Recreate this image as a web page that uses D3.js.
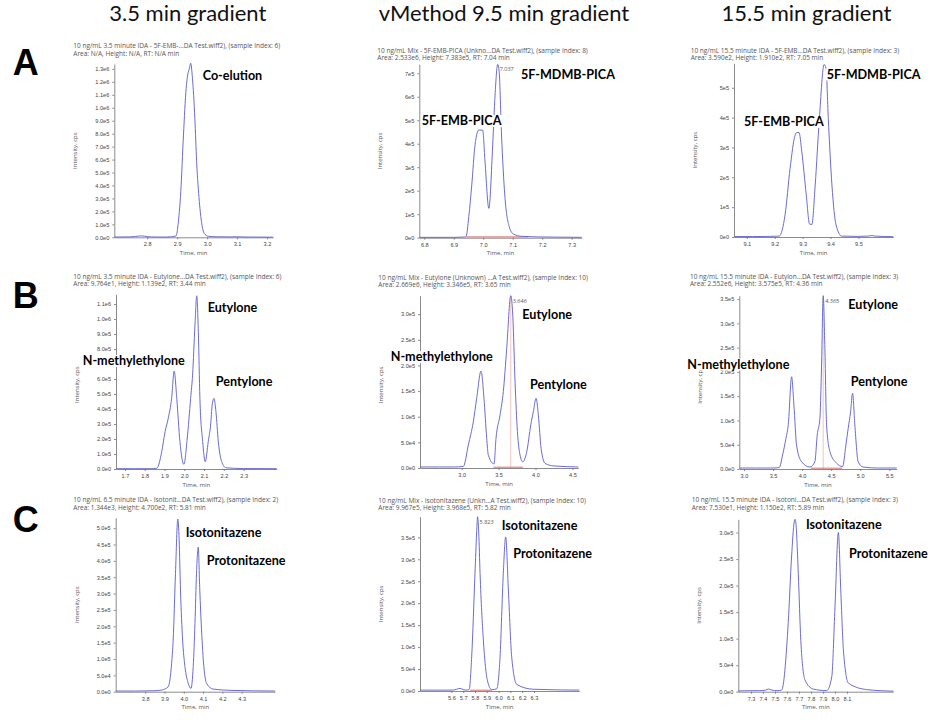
<!DOCTYPE html>
<meta charset="utf-8">
<style>
	body{margin:0;background:#fff;}
	svg{display:block;font-family:"Open Sans",sans-serif;}
	.axis path,.axis line{stroke:#6d6d6d;stroke-width:0.8;}
	.axis text{font-size:5.6px;fill:#444;}
	.trace{fill:none;stroke:#6c6cd0;stroke-width:1;}
	.head{font-family:Lato,sans-serif;font-size:22px;fill:#111;}
	.row{font-family:"Liberation Sans",Arial,sans-serif;font-weight:bold;font-size:36px;fill:#000;}
	.peak{font-family:Lato,sans-serif;font-weight:bold;font-size:12.6px;fill:#000;}
	.info{font-size:6.5px;fill:#555;}
	.atitle{font-size:6px;fill:#555;}
	.apex{font-size:5.5px;fill:#555;}
	.base{stroke:#e06a6a;stroke-width:1;}
	.rtline{stroke:#f2b4b4;stroke-width:0.8;}
</style>
<body>
<svg width="936" height="720" id="fig"></svg>
<script src="https://cdn.jsdelivr.net/npm/d3@7"></script>
<script>
	/* column headers and row letters */
	var headers = ["3.5 min gradient", "vMethod 9.5 min gradient", "15.5 min gradient"];
	var rows = ["A", "B", "C"];

	/* chromatogram traces: time (min) and intensity (cps) */
	var a1Time = [2.69, 2.74, 2.76, 2.781, 2.80, 2.83, 2.865, 2.896, 2.904, 2.912, 2.921, 2.93, 2.935, 2.941, 2.945, 2.951, 2.959, 2.965, 2.974, 2.982, 2.99, 3.004, 3.03, 3.08, 3.10, 3.13, 3.22];
	var a1Int = [2e3, 3e3, 6e3, 1.1e4, 5e3, 2e3, 2e3, 1e4, 1.2e5, 3.52e5, 7.9e5, 1.15e6, 1.253e6, 1.305e6, 1.344e6, 1.228e6, 9.19e5, 5.84e5, 2.75e5, 1.08e5, 3.1e4, 8e3, 4e3, 3e3, 4e3, 2e3, 1e3];

	var a2Time = [6.783, 6.85, 6.90, 6.941, 6.951, 6.961, 6.972, 6.985, 6.998, 7.006, 7.019, 7.032, 7.04, 7.049, 7.054, 7.062, 7.073, 7.088, 7.102, 7.13, 7.2, 7.334];
	var a2Int = [1.5e3, 1.5e3, 1.5e3, 3e3, 9e4, 2.24e5, 3.94e5, 4.58e5, 4.58e5, 3.23e5, 1.25e5, 3.94e5, 6.07e5, 7.38e5, 7.06e5, 4.37e5, 1.82e5, 4.7e4, 1.6e4, 6e3, 3e3, 1.5e3];

	var a3Time = [9.054, 9.12, 9.18, 9.216, 9.237, 9.255, 9.273, 9.279, 9.287, 9.297, 9.313, 9.325, 9.333, 9.345, 9.36, 9.377, 9.384, 9.392, 9.405, 9.42, 9.44, 9.5, 9.535, 9.548, 9.56, 9.625];
	var a3Int = [1.5e3, 1.5e3, 2e3, 3e3, 7.4e4, 2.3e5, 3.41e5, 3.5e5, 3.5e5, 2.86e5, 1.41e5, 4.3e4, 4.2e4, 1.74e5, 3.97e5, 5.78e5, 5.65e5, 3.97e5, 1.74e5, 4e4, 3e3, 2e3, 3e3, 5e3, 3e3, 1e3];

	var b1Time = [1.655, 1.75, 1.83, 1.861, 1.886, 1.903, 1.919, 1.936, 1.949, 1.962, 1.978, 1.998, 2.015, 2.032, 2.042, 2.054, 2.063, 2.071, 2.079, 2.093, 2.106, 2.121, 2.133, 2.141, 2.15, 2.16, 2.172, 2.189, 2.211, 2.30, 2.467];
	var b1Int = [2e3, 2e3, 2e3, 5e3, 1.15e5, 2.49e5, 3.38e5, 4.71e5, 6.53e5, 4.71e5, 1.82e5, 3.1e4, 2.05e5, 4.71e5, 6.27e5, 9.6e5, 1.155e6, 9.15e5, 4.71e5, 1.82e5, 4.9e4, 1.82e5, 2.93e5, 4.27e5, 4.71e5, 3.82e5, 1.82e5, 4.9e4, 8e3, 3e3, 2e3];

	var b2Time = [2.435, 2.7, 2.9, 3.022, 3.09, 3.157, 3.203, 3.262, 3.302, 3.339, 3.361, 3.438, 3.465, 3.519, 3.564, 3.61, 3.665, 3.692, 3.723, 3.755, 3.791, 3.827, 3.882, 3.936, 3.971, 4.008, 4.039, 4.076, 4.13, 4.25, 4.58];
	var b2Int = [2e3, 2e3, 2e3, 3e3, 4.5e4, 9e4, 1.36e5, 1.89e5, 1.36e5, 5.8e4, 2.5e4, 8e3, 5.8e4, 1.03e5, 1.49e5, 2.33e5, 3.36e5, 2.98e5, 1.68e5, 7.1e4, 2.5e4, 1.2e4, 3.2e4, 8.4e4, 1.1e5, 1.36e5, 1.03e5, 3.8e4, 9e3, 4e3, 2e3];

	var b3Time = [2.92, 3.2, 3.5, 3.607, 3.665, 3.722, 3.762, 3.82, 3.859, 3.905, 3.991, 4.134, 4.22, 4.26, 4.306, 4.335, 4.363, 4.392, 4.421, 4.478, 4.593, 4.696, 4.753, 4.793, 4.834, 4.868, 4.907, 4.964, 5.05, 5.3, 5.627];
	var b3Int = [2e3, 2e3, 2e3, 3e3, 2.9e4, 6.3e4, 9.1e4, 1.9e5, 1.32e5, 4.9e4, 1.5e4, 4e3, 1.5e4, 7e4, 1.04e5, 2.14e5, 3.57e5, 2.48e5, 9.1e4, 3.6e4, 1.2e4, 5e3, 4.9e4, 8.4e4, 1.18e5, 1.56e5, 9.1e4, 1.5e4, 4e3, 2e3, 2e3];

	var c1Time = [3.647, 3.75, 3.85, 3.885, 3.919, 3.937, 3.945, 3.957, 3.969, 3.976, 3.983, 3.994, 4.006, 4.023, 4.037, 4.049, 4.058, 4.066, 4.075, 4.083, 4.092, 4.104, 4.118, 4.152, 4.25, 4.473];
	var c1Int = [2e3, 2e3, 3e3, 5e3, 1.5e4, 8.7e4, 1.58e5, 3.62e5, 5.28e5, 4.64e5, 3.11e5, 1.58e5, 7.7e4, 2.6e4, 1e4, 7.7e4, 2.09e5, 3.62e5, 4.42e5, 3.11e5, 1.89e5, 7.7e4, 2.6e4, 8e3, 4e3, 2e3];

	var c2Time = [5.334, 5.608, 5.645, 5.673, 5.702, 5.733, 5.751, 5.772, 5.80, 5.814, 5.822, 5.832, 5.843, 5.871, 5.906, 5.943, 5.984, 6.012, 6.04, 6.06, 6.083, 6.111, 6.154, 6.293, 6.684];
	var c2Int = [2e3, 2e3, 4e3, 6e3, 3e3, 2e3, 4e3, 7.8e4, 2.68e5, 3.6e5, 3.97e5, 3.6e5, 2.68e5, 1.16e5, 2.3e4, 3e3, 5e3, 7.6e4, 2.68e5, 3.51e5, 2.3e5, 7.8e4, 1.5e4, 4e3, 2e3];

	var c3Time = [7.194, 7.373, 7.423, 7.445, 7.474, 7.518, 7.555, 7.61, 7.638, 7.66, 7.667, 7.674, 7.694, 7.715, 7.75, 7.819, 7.931, 7.973, 8.0, 8.028, 8.048, 8.07, 8.112, 8.264, 8.486];
	var c3Int = [1.5e3, 2e3, 3e3, 5e3, 3e3, 2e3, 3e3, 1.29e5, 2.54e5, 3.2e5, 3.25e5, 3.18e5, 2.23e5, 9.7e4, 2.2e4, 5e3, 2e3, 2.8e4, 1.6e5, 3e5, 1.92e5, 7.9e4, 1.6e4, 4e3, 1e3];

	/* axis ranges and ticks */
	var xDomains = [[2.69, 3.22], [6.783, 7.334], [9.054, 9.625], [1.655, 2.467], [2.435, 4.58], [2.92, 5.627], [3.647, 4.473], [5.334, 6.684], [7.194, 8.486]];
	var yMaxes = [1.338e6, 7.38e5, 5.82e5, 1.165e6, 3.36e5, 3.57e5, 5.32e5, 3.97e5, 3.25e5];
	var xTicks = [
		[2.8, 2.9, 3.0, 3.1, 3.2],
		[6.8, 6.9, 7.0, 7.1, 7.2, 7.3],
		[9.1, 9.2, 9.3, 9.4, 9.5],
		[1.7, 1.8, 1.9, 2.0, 2.1, 2.2, 2.3],
		[3.0, 3.5, 4.0, 4.5],
		[3.0, 3.5, 4.0, 4.5, 5.0, 5.5],
		[3.8, 3.9, 4.0, 4.1, 4.2, 4.3],
		[5.6, 5.7, 5.8, 5.9, 6.0, 6.1, 6.2, 6.3],
		[7.3, 7.4, 7.5, 7.6, 7.7, 7.8, 7.9, 8.0, 8.1]
	];
	var yStep = [1e5, 1e5, 1e5, 1e5, 5e4, 5e4, 5e4, 5e4, 5e4];
	var yTop = [1.3e6, 7e5, 5e5, 1.1e6, 3e5, 3.5e5, 5e5, 3.5e5, 3e5];
	var yDecimals = [1, 0, 0, 1, 1, 1, 1, 1, 1];

	/* panel captions from the software export */
	var titles = [
		"10 ng/mL 3.5 minute IDA - 5F-EMB-...DA Test.wiff2), (sample Index: 6)",
		"10 ng/mL Mix - 5F-EMB-PICA (Unkno...DA Test.wiff2), (sample Index: 8)",
		"10 ng/mL 15.5 minute IDA - 5F-EMB...DA Test.wiff2), (sample Index: 3)",
		"10 ng/mL 3.5 minute IDA - Eutylone...DA Test.wiff2), (sample Index: 6)",
		"10 ng/mL Mix - Eutylone (Unknown) ...A Test.wiff2), (sample Index: 10)",
		"10 ng/mL 15.5 minute IDA - Eutylon...DA Test.wiff2), (sample Index: 3)",
		"10 ng/mL 6.5 minute IDA - Isotonit...DA Test.wiff2), (sample Index: 2)",
		"10 ng/mL Mix - Isotonitazene (Unkn...A Test.wiff2), (sample Index: 10)",
		"10 ng/mL 15.5 minute IDA - Isotoni...DA Test.wiff2), (sample Index: 3)"
	];
	var infos = [
		"Area: N/A, Height: N/A, RT: N/A min",
		"Area: 2.533e6, Height: 7.383e5, RT: 7.04 min",
		"Area: 3.590e2, Height: 1.910e2, RT: 7.05 min",
		"Area: 9.764e1, Height: 1.139e2, RT: 3.44 min",
		"Area: 2.669e6, Height: 3.346e5, RT: 3.65 min",
		"Area: 2.552e6, Height: 3.575e5, RT: 4.36 min",
		"Area: 1.344e3, Height: 4.700e2, RT: 5.81 min",
		"Area: 9.967e5, Height: 3.968e5, RT: 5.82 min",
		"Area: 7.530e1, Height: 1.150e2, RT: 5.89 min"
	];

	/* integrated peak: baseline start/end, apex RT, and whether the RT marker line is shown */
	var baseStart = [null, 6.944, null, null, 3.43, 4.15, null, 5.758, null];
	var baseEnd = [null, 7.152, null, null, 3.83, 4.69, null, 5.942, null];
	var apexRT = [null, 7.049, null, null, 3.665, 4.363, null, 5.822, null];
	var apexInt = [null, 7.38e5, null, null, 3.36e5, 3.57e5, null, 3.97e5, null];
	var apexText = [null, "7.037", null, null, "3.646", "4.365", null, "5.823", null];
	var rtMarker = [false, false, false, false, true, true, false, false, false];

	/* compound labels added on the figure */
	var peakNames = [
		["Co-elution"],
		["5F-MDMB-PICA", "5F-EMB-PICA"],
		["5F-MDMB-PICA", "5F-EMB-PICA"],
		["Eutylone", "N-methylethylone", "Pentylone"],
		["Eutylone", "N-methylethylone", "Pentylone"],
		["Eutylone", "N-methylethylone", "Pentylone"],
		["Isotonitazene", "Protonitazene"],
		["Isotonitazene", "Protonitazene"],
		["Isotonitazene", "Protonitazene"]
	];

	var times = [a1Time, a2Time, a3Time, b1Time, b2Time, b3Time, c1Time, c2Time, c3Time];
	var ints = [a1Int, a2Int, a3Int, b1Int, b2Int, b3Int, c1Int, c2Int, c3Int];

	/* layout: plot box of each panel (page px) */
	var boxes = [
		{l:114.3, r:273, t:64, b:237.3, tx:73.3, ty:48, ay:0},
		{l:419.3, r:581.7, t:64.3, b:237.7, tx:377.3, ty:52.5, ay:0},
		{l:734, r:893.3, t:63.3, b:237, tx:690.7, ty:52.5, ay:0},
		{l:116, r:276.7, t:294.3, b:469, tx:73.3, ty:278.5, ay:3},
		{l:420, r:578.3, t:295.7, b:468, tx:378.3, ty:279.5, ay:3},
		{l:739.3, r:896.7, t:295.7, b:469, tx:690, ty:278.5, ay:3},
		{l:115.7, r:275, t:517.7, b:691.7, tx:73.3, ty:502, ay:0},
		{l:420, r:579.3, t:516.7, b:691, tx:378.3, ty:502.5, ay:0},
		{l:738.3, r:893.3, t:519.3, b:691.7, tx:691.7, ty:502, ay:0}
	];
	var namePos = [
		[[202.7, 80]],
		[[521, 79], [421.7, 125]],
		[[826.7, 78.5], [744, 126]],
		[[207.7, 312], [82.7, 365], [215.7, 386]],
		[[522.3, 319], [390.7, 361], [530, 389]],
		[[848.3, 309], [687.3, 368.5], [850.7, 386]],
		[[185.7, 536.5], [206.7, 565]],
		[[501.7, 530], [513.3, 557.5]],
		[[806, 528.5], [849, 557.5]]
	];

	function sci(v, dec){
		if(v === 0) return (0).toFixed(dec) + "e0";
		var e = Math.floor(Math.log10(v) + 1e-9);
		return (v / Math.pow(10, e)).toFixed(dec) + "e" + e;
	}

	var svg = d3.select("#fig");

	svg.selectAll("text.head").data(headers).enter().append("text")
		.attr("class", "head")
		.attr("x", function(d, i){ return [187.8, 504, 806.5][i]; })
		.attr("y", 21)
		.attr("text-anchor", "middle")
		.text(function(d){ return d; });

	svg.selectAll("text.row").data(rows).enter().append("text")
		.attr("class", "row")
		.attr("x", 25.8)
		.attr("y", function(d, i){ return [75, 308, 532][i]; })
		.attr("text-anchor", "middle")
		.text(function(d){ return d; });

	boxes.forEach(function(bx, i){
		var g = svg.append("g");
		var x = d3.scaleLinear().domain(xDomains[i]).range([bx.l, bx.r]);
		var y = d3.scaleLinear().domain([0, yMaxes[i]]).range([bx.b, bx.t]);
		var yt = d3.range(0, yTop[i] + yStep[i] / 2, yStep[i]);

		g.append("text").attr("class", "info").attr("x", bx.tx).attr("y", bx.ty).text(titles[i]);
		g.append("text").attr("class", "info").attr("x", bx.tx).attr("y", bx.ty + 7.8).text(infos[i]);

		// integration baseline + apex label
		if(baseStart[i] !== null){
			if(rtMarker[i]){
				g.append("line").attr("class", "rtline")
					.attr("x1", x(apexRT[i])).attr("x2", x(apexRT[i]))
					.attr("y1", y(0)).attr("y2", y(apexInt[i]) + 2);
			}
			g.append("line").attr("class", "base")
				.attr("x1", x(baseStart[i])).attr("x2", x(baseEnd[i]))
				.attr("y1", y(0) - 0.8).attr("y2", y(0) - 0.8);
			g.append("text").attr("class", "apex")
				.attr("x", x(apexRT[i]) + 2).attr("y", y(apexInt[i]) + 7)
				.text(apexText[i]);
		}

		var pts = times[i].map(function(t, k){ return [t, ints[i][k]]; });
		g.append("path").attr("class", "trace")
			.attr("d", d3.line()
				.x(function(d){ return x(d[0]); })
				.y(function(d){ return y(d[1]); })
				.curve(d3.curveMonotoneX)(pts));

		g.append("g").attr("class", "axis")
			.attr("transform", "translate(0," + bx.b + ")")
			.call(d3.axisBottom(x).tickValues(xTicks[i]).tickFormat(d3.format(".1f")).tickSize(2).tickSizeOuter(0).tickPadding(3));
		g.append("g").attr("class", "axis")
			.attr("transform", "translate(" + bx.l + ",0)")
			.call(d3.axisLeft(y).tickValues(yt).tickFormat(function(d){ return sci(d, yDecimals[i]); }).tickSize(2).tickSizeOuter(0).tickPadding(3));

		g.append("text").attr("class", "atitle")
			.attr("transform", "translate(" + (bx.l - 37) + "," + ((bx.t + bx.b) / 2 + bx.ay) + ") rotate(-90)")
			.attr("text-anchor", "middle")
			.text("Intensity, cps");
		g.append("text").attr("class", "atitle")
			.attr("x", (bx.l + bx.r) / 2).attr("y", bx.b + 17.5)
			.attr("text-anchor", "middle")
			.text("Time, min");

		peakNames[i].forEach(function(n, k){
			var t = g.append("text").attr("class", "peak")
				.attr("x", namePos[i][k][0]).attr("y", namePos[i][k][1])
				.text(n);
			var bb = t.node().getBBox();
			g.insert("rect", function(){ return t.node(); })
				.attr("x", bb.x - 1).attr("y", bb.y + 2)
				.attr("width", bb.width + 2).attr("height", bb.height - 3)
				.attr("fill", "#fff");
		});
	});
</script>
</body>
